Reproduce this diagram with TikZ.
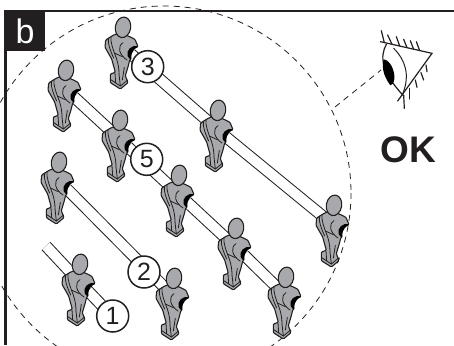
\documentclass[tikz,border=0pt]{standalone}
\usepackage{fontspec}
\setmainfont{Liberation Sans}
\definecolor{ink}{HTML}{231F20}
\definecolor{bodygrey}{HTML}{A7A9AC}
\tikzset{
  rod/.style={draw=ink,line width=1pt,double=white,double distance=10pt,line cap=butt},
  rodend/.style={rod,shorten >=10pt},
  numcircle/.style={circle,draw=ink,line width=1.5pt,fill=white,minimum size=32pt,inner sep=0pt,font=\fontsize{25}{25}\selectfont,text=ink},
  sightline/.style={draw=ink,line width=.8pt,dash pattern=on 6pt off 5pt},
  eyeline/.style={draw=ink,line width=1.2pt,line cap=round},
  fine/.style={draw=ink,line width=.8pt,line cap=round},
  player/.pic={
    \begin{scope}[scale=1/3]
      \path[fill=bodygrey,draw=ink,line width=1.1pt,rounded corners=1pt,line join=round]
        (-36,-62) -- (-8,-54) -- (12,-44) -- (21,-22) -- (2,-15) -- (-6,-2) -- (0,14) -- (-4,18)
        -- (-8,35) -- (-17,65) -- (-9,86) -- (-32,105) -- (-62,86) -- (-62,60) -- (-47,55)
        -- (-58,15) -- (-78,-20) -- (-76,-42) -- (-52,-57) -- cycle;
      \draw[fine] (-68,-48) .. controls (-70,-30) and (-62,-10) .. (-52,12);
      \draw[fine] (-60,-52) .. controls (-62,-34) and (-54,-14) .. (-44,12) .. controls (-38,30) and (-36,45) .. (-36,60);
      \draw[fine] (-24,-34) .. controls (-42,-22) and (-36,2) .. (-12,18);
      \draw[fine] (-48,-2) -- (-26,8);
      \draw[fine] (-36,60) -- (-32,96);
      \draw[fine] (-48,56) -- (-46,86);
      \draw[fine] (-62,76) -- (-32,96) -- (-10,78);
      \draw[fine] (-20,40) -- (-26,78);
      \fill[black] (21,-22) .. controls (2,-30) and (-16,-10) .. (-10,6) .. controls (-8,12) and (-4,15) .. (1,16)
        .. controls (0,6) and (0,-10) .. (21,-22) -- cycle;
      \draw[fill=bodygrey,draw=ink,line width=1.1pt] (-24,-80) ellipse [x radius=23,y radius=31,rotate=-10];
    \end{scope}
  }
}
\begin{document}
\begin{tikzpicture}[x=1pt,y=-1pt]
\useasboundingbox (0,0) rectangle (454,345);
% sockets of the players
\coordinate (p1) at (131,54);
\coordinate (p2) at (74,97);
\coordinate (p3) at (226,137);
\coordinate (p4) at (128,147);
\coordinate (p5) at (67,189);
\coordinate (p6) at (187,202);
\coordinate (p7) at (342,232);
\coordinate (p8) at (244,255);
\coordinate (p9) at (88,291);
\coordinate (p10) at (182,305);
\coordinate (p11) at (294,304);
\coordinate (free) at (46,246);
% frame
\begin{scope}
\clip (0,0) rectangle (454,345);
\draw[sightline] (164,193) circle [radius=187];
\end{scope}
\draw[ink,line width=2.4pt] (454,11) -- (5.5,11) -- (5.5,345);
\node[fill=ink,text=white,minimum size=40pt,inner sep=0pt,font=\fontsize{34}{34}\selectfont] (label) at (25,31) {b};
% rods
\draw[rodend] (p1) -- (p3);
\draw[rodend] (p3) -- (p7);
\draw[rodend] (p2) -- (p4);
\draw[rodend] (p4) -- (p6);
\draw[rodend] (p6) -- (p8);
\draw[rodend] (p8) -- (p11);
\draw[rodend] (p5) -- (p10);
\draw[rod] (free) -- (p9);
\coordinate (rodend1) at (112,316);
\draw[rod] (p9) -- (rodend1);
% players
\foreach \p in {p1,p2,p3,p4,p5,p6,p7,p8,p9,p10,p11}
  \pic at (\p) {player};
% number circles
\node[numcircle] (n3) at (147.7,66.7) {3};
\node[numcircle] (n5) at (146.7,159.3) {5};
\node[numcircle] (n2) at (144,272) {2};
\node[numcircle] (n1) at (112.7,316) {1};
% eye
\coordinate (sightA) at (335,107);
\coordinate (sightB) at (381,70);
\draw[sightline] (sightA) -- (sightB);
\begin{scope}[shift={(227,0)},scale=1/3]
  \draw[eyeline] (460,125) -- (615,160) -- (512,303);
  \draw[eyeline] (478,133) .. controls (458,170) and (462,215) .. (530,288);
  \draw[eyeline,line width=1pt] (500,145) .. controls (535,180) and (550,225) .. (527,282);
  \fill[black] (470,178) .. controls (490,180) and (505,215) .. (502,238) .. controls (500,250) and (495,255) .. (490,256) .. controls (475,235) and (462,210) .. (470,178) -- cycle;
  \draw[eyeline] (472,128) -- (463,92);
  \draw[eyeline] (495,133) .. controls (490,120) .. (482,105);
  \draw[eyeline] (518,138) .. controls (514,125) .. (508,110);
  \draw[eyeline] (540,143) .. controls (536,130) .. (530,118);
  \draw[eyeline] (560,148) .. controls (556,135) .. (550,122);
  \draw[eyeline] (578,152) .. controls (575,140) .. (568,125);
  \draw[eyeline] (530,285) -- (532,325);
  \draw[eyeline] (548,265) -- (548,297);
  \draw[eyeline] (565,240) -- (570,262);
  \draw[eyeline] (582,218) -- (590,240);
  \draw[eyeline] (597,195) -- (600,215);
\end{scope}
\node[font=\bfseries\fontsize{37}{37}\selectfont,text=ink,inner sep=0pt] (ok) at (408.5,150) {OK};
\end{tikzpicture}
\end{document}
